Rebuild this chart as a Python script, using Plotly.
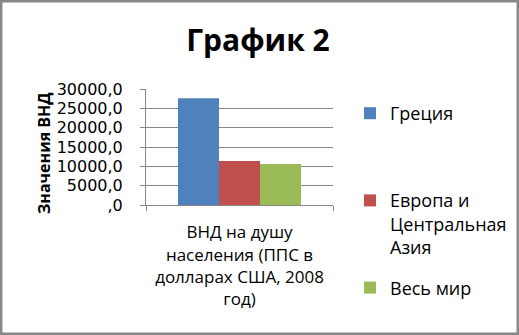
import plotly.graph_objects as go

categories = ["ВНД на душу<br>населения (ППС в<br>долларах США, 2008<br>год)"]
series_names = ["Греция", "Европа и<br>Центральная<br>Азия", "Весь мир"]
series_values = [[27600], [11380], [10600]]
colors = ["#4F81BD", "#C0504D", "#9BBB59"]
legend_labels = ["Греция<br> <br> ", "Европа и<br>Центральная<br>Азия", "Весь мир"]
tick_vals = [0, 5000, 10000, 15000, 20000, 25000, 30000]
tick_text = [",0", "5000,0", "10000,0", "15000,0", "20000,0", "25000,0", "30000,0"]

W, H = 519, 335
L, R, T, B = 146, 333, 89, 205

fig = go.Figure()
for i, (name, vals) in enumerate(zip(series_names, series_values)):
    fig.add_trace(go.Bar(x=categories, y=vals, name=legend_labels[i],
                         marker=dict(color=colors[i], line=dict(width=0)),
                         legendgroup=str(i)))

font = "Open Sans, Noto Sans, DejaVu Sans, sans-serif"
grid = "#878787"

def px_x(p):
    return (p - L) / (R - L)

def px_y(p):
    return (B - p) / (B - T)

fig.update_layout(
    width=W, height=H,
    margin=dict(l=L, r=W - R, t=T, b=H - B, autoexpand=False),
    paper_bgcolor="white", plot_bgcolor="white",
    font=dict(family=font, size=16, color="black"),
    barmode="group", bargap=0.342, bargroupgap=0,
    title=dict(text="<b>График 2</b>", x=258 / W, xref="container", xanchor="center",
               y=1 - 40 / H, yref="container", yanchor="middle",
               font=dict(size=30, family=font, color="black")),
    showlegend=True,
    legend=dict(x=px_x(350), xanchor="left", y=px_y(95), yanchor="top",
                font=dict(size=18, family=font, color="black"),
                valign="top", tracegroupgap=14, traceorder="grouped",
                maxheight=330,
                bgcolor="rgba(0,0,0,0)"),
    xaxis=dict(type="category", showline=True, linecolor=grid, linewidth=1,
               ticks="outside", tickson="boundaries", ticklen=5, tickcolor=grid,
               tickfont=dict(size=17), ticklabelstandoff=12,
               showgrid=False, fixedrange=True),
    yaxis=dict(range=[0, 30000], tickvals=tick_vals, ticktext=tick_text,
               showline=True, linecolor=grid, linewidth=1,
               ticks="outside", ticklen=5, tickcolor=grid,
               showgrid=True, gridcolor=grid, gridwidth=1,
               tickfont=dict(size=16, family="DejaVu Sans"), ticklabelstandoff=14,
               zeroline=False, automargin=False),
    annotations=[dict(text="<b>Значения ВНД</b>", xref="paper", yref="paper",
                      x=px_x(44), y=px_y(153), xanchor="center", yanchor="middle",
                      textangle=-90, showarrow=False,
                      font=dict(size=16, family=font, color="black"))],
    shapes=[dict(type="rect", xref="paper", yref="paper",
                 x0=px_x(1.2), x1=px_x(517.8), y0=px_y(1.2), y1=px_y(333.8),
                 line=dict(color="#888888", width=2.5), fillcolor="rgba(0,0,0,0)")],
)

fig.write_html("out.html")
